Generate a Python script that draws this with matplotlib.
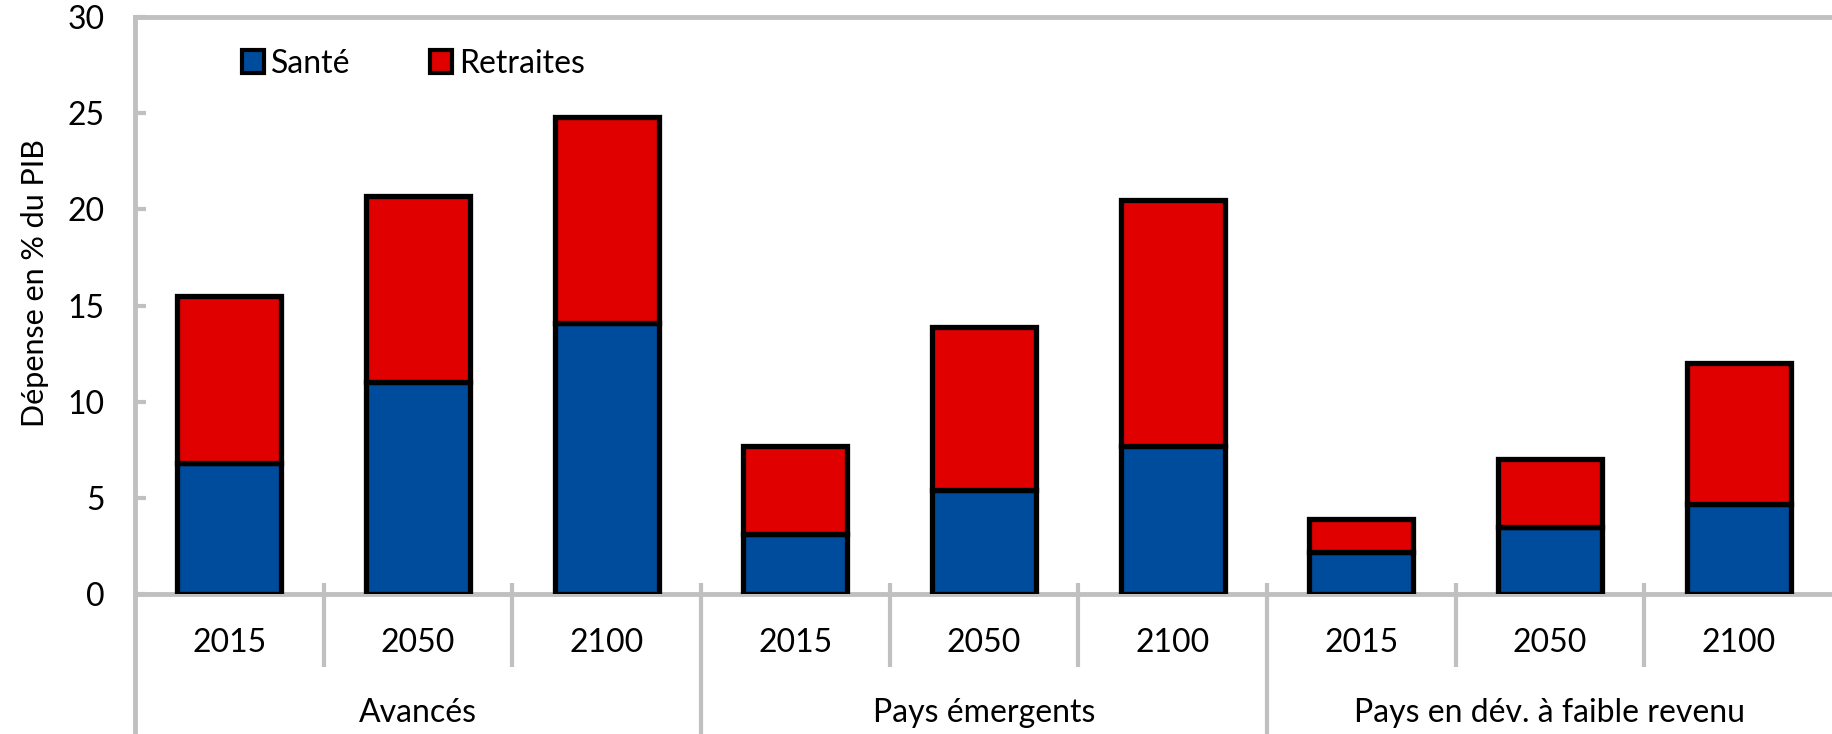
import matplotlib
matplotlib.use("Agg")
import matplotlib.pyplot as plt
import matplotlib.transforms as mtransforms
from matplotlib.patches import Rectangle

plt.rcParams['font.family'] = ['Lato', 'DejaVu Sans']

# --- data ---
years = ["2015", "2050", "2100"] * 3
groups = ["Avancés", "Pays émergents", "Pays en dév. à faible revenu"]
sante = [6.8, 11.0, 14.1, 3.1, 5.4, 7.7, 2.2, 3.5, 4.7]
retraites = [8.7, 9.7, 10.7, 4.6, 8.5, 12.8, 1.7, 3.5, 7.3]

BLUE = "#004C9C"
RED = "#E00000"
GRAY = "#C0C0C0"
FS = 23

fig = plt.figure(figsize=(18.33, 7.34), dpi=100)
ax = fig.add_axes([135/1833, 1 - 594/734, 1 - 135/1833, (594 - 17)/734])

x = list(range(len(years)))
ax.bar(x, sante, width=0.55, color=BLUE, edgecolor="black", linewidth=3.8,
       label="Santé", zorder=3)
ax.bar(x, retraites, width=0.55, bottom=sante, color=RED, edgecolor="black",
       linewidth=3.8, label="Retraites", zorder=3)

ax.set_xlim(-0.5, len(years) - 0.5)
ax.set_ylim(0, 30)
ax.set_yticks(range(0, 31, 5))
ax.tick_params(axis="y", direction="in", length=8, width=3, color=GRAY,
               labelsize=FS, pad=22)
ax.set_xticks([])

for side in ["left", "top", "bottom"]:
    ax.spines[side].set_color(GRAY)
    ax.spines[side].set_linewidth(3.5)
ax.spines["right"].set_visible(False)

trans = mtransforms.blended_transform_factory(ax.transData, ax.transAxes)

# year labels and dividers
for i, yr in enumerate(years):
    ax.text(i, -0.085, yr, transform=trans, ha="center", va="center",
            fontsize=FS, clip_on=False)
for i in range(1, len(years)):
    lo = -0.243 if i % 3 == 0 else -0.127
    ax.plot([i - 0.5, i - 0.5], [0.019, lo], transform=trans, color=GRAY,
            lw=3, clip_on=False, solid_capstyle="butt")
ax.plot([-0.5, -0.5], [0, -0.243], transform=trans, color=GRAY, lw=3.5,
        clip_on=False, solid_capstyle="butt")

# group labels
for g, name in enumerate(groups):
    ax.text(3 * g + 1, -0.206, name, transform=trans, ha="center", va="center",
            fontsize=FS, clip_on=False)

fig.text(35/1833, 1 - 283/734, "Dépense en % du PIB", rotation=90,
         ha="center", va="center", fontsize=FS - 1)

h1 = Rectangle((0, 0), 1, 1, facecolor=BLUE, edgecolor="black", linewidth=3)
h2 = Rectangle((0, 0), 1, 1, facecolor=RED, edgecolor="black", linewidth=3)
ax.legend([h1, h2], ["Santé", "Retraites"], loc="upper left",
          bbox_to_anchor=(0.046, 0.995), ncol=2, frameon=False, fontsize=FS,
          handlelength=0.7, handleheight=0.7, handletextpad=0.2,
          columnspacing=2.5)

fig.savefig("out.png", dpi=100)
